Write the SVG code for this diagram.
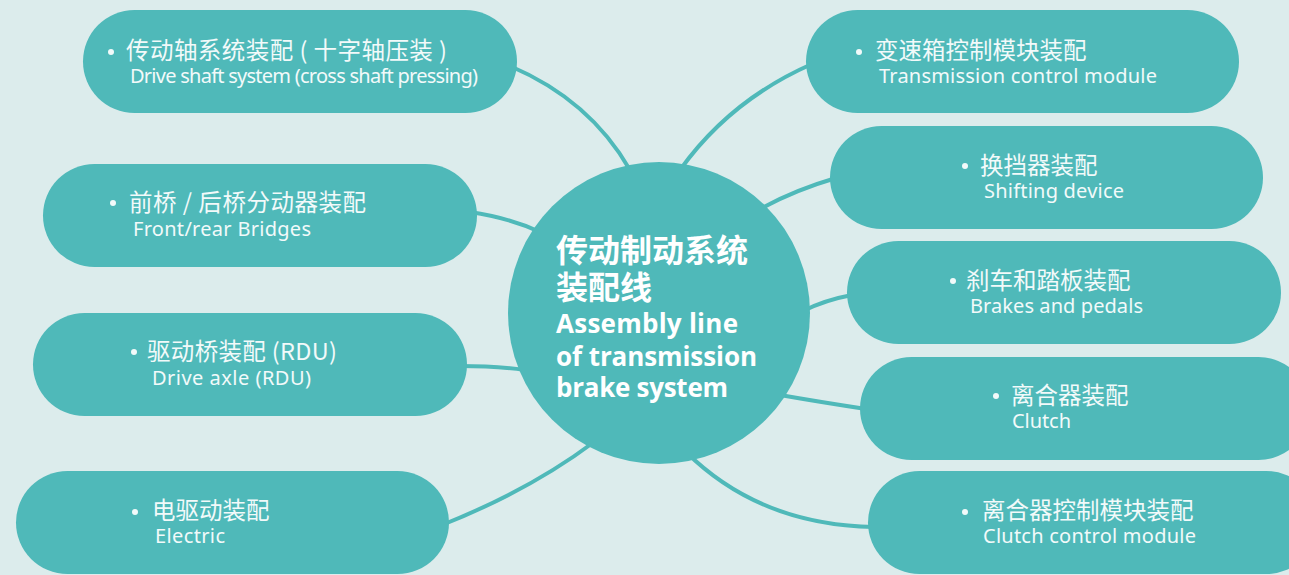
<svg xmlns="http://www.w3.org/2000/svg" width="1289" height="575" viewBox="0 0 1289 575">
<style>
.bg{fill:#dcecec}
.pill{fill:#4fb9b9}
.hub{fill:#4fb9b9}
.con{fill:none;stroke:#4fb9b9;stroke-width:4}
.zh{font-family:"Noto Sans CJK SC","Noto Sans",sans-serif;font-size:23.5px;fill:#f2fafa}
.en{font-family:"Noto Sans","Noto Sans CJK SC",sans-serif;font-size:20px;fill:#f2fafa}
.dot{fill:#f2fafa}
.hzh{font-family:"Noto Sans CJK SC",sans-serif;font-size:32px;font-weight:bold;fill:#ffffff}
.hen{font-family:"Open Sans","Noto Sans",sans-serif;font-size:26px;font-weight:bold;fill:#ffffff}
</style>
<rect class="bg" x="0" y="0" width="1289" height="575"/>
<g id="connectors">
<path class="con" d="M510,66 Q590,100 630,170"/>
<path class="con" d="M812,64 Q730,100 680,170"/>
<path class="con" d="M470,212 Q510,218 540,232"/>
<path class="con" d="M836,178 Q795,190 762,208"/>
<path class="con" d="M460,366 Q495,366 525,370"/>
<path class="con" d="M852,295 Q825,300 803,311"/>
<path class="con" d="M866,409 Q820,402 780,395"/>
<path class="con" d="M442,525 Q530,490 594,442"/>
<path class="con" d="M874,527 Q760,525 686,452"/>
</g>
<g id="hub">
<circle class="hub" cx="659" cy="313" r="151"/>
<text class="hzh" x="556" y="262">传动制动系统</text>
<text class="hzh" x="556" y="299">装配线</text>
<text class="hen" x="556" y="333" textLength="182">Assembly line</text>
<text class="hen" x="556" y="366" textLength="201">of transmission</text>
<text class="hen" x="556" y="397" textLength="172">brake system</text>
</g>
<g id="n1">
<rect class="pill" x="83" y="10" width="434" height="103" rx="51.5"/>
<circle class="dot" cx="111" cy="52" r="3"/>
<text class="zh" x="126" y="59" textLength="321">传动轴系统装配 ( 十字轴压装 )</text>
<text class="en" x="130" y="83" textLength="348">Drive shaft system (cross shaft pressing)</text>
</g>
<g id="n2">
<rect class="pill" x="43" y="164" width="434" height="103" rx="51.5"/>
<circle class="dot" cx="113" cy="203" r="3"/>
<text class="zh" x="129" y="211" textLength="237">前桥 / 后桥分动器装配</text>
<text class="en" x="133" y="236" textLength="178">Front/rear Bridges</text>
</g>
<g id="n3">
<rect class="pill" x="33" y="313" width="434" height="103" rx="51.5"/>
<circle class="dot" cx="134" cy="352" r="3"/>
<text class="zh" x="147" y="360" textLength="190">驱动桥装配 (RDU)</text>
<text class="en" x="152" y="385" textLength="159">Drive axle (RDU)</text>
</g>
<g id="n4">
<rect class="pill" x="16" y="471" width="433" height="103" rx="51.5"/>
<circle class="dot" cx="135" cy="512" r="3"/>
<text class="zh" x="152" y="519">电驱动装配</text>
<text class="en" x="155" y="543" textLength="70">Electric</text>
</g>
<g id="n5">
<rect class="pill" x="806" y="10" width="433" height="103" rx="51.5"/>
<circle class="dot" cx="859" cy="52" r="3"/>
<text class="zh" x="875" y="59">变速箱控制模块装配</text>
<text class="en" x="879" y="83" textLength="278">Transmission control module</text>
</g>
<g id="n6">
<rect class="pill" x="830" y="126" width="433" height="103" rx="51.5"/>
<circle class="dot" cx="965" cy="166" r="3"/>
<text class="zh" x="980" y="174">换挡器装配</text>
<text class="en" x="984" y="198" textLength="140">Shifting device</text>
</g>
<g id="n7">
<rect class="pill" x="847" y="241" width="434" height="103" rx="51.5"/>
<circle class="dot" cx="953" cy="281" r="3"/>
<text class="zh" x="966" y="289">刹车和踏板装配</text>
<text class="en" x="970" y="313" textLength="173">Brakes and pedals</text>
</g>
<g id="n8">
<rect class="pill" x="860" y="357" width="450" height="103" rx="51.5"/>
<circle class="dot" cx="996" cy="396" r="3"/>
<text class="zh" x="1011" y="404">离合器装配</text>
<text class="en" x="1012" y="428" textLength="59">Clutch</text>
</g>
<g id="n9">
<rect class="pill" x="868" y="471" width="450" height="103" rx="51.5"/>
<circle class="dot" cx="965" cy="512" r="3"/>
<text class="zh" x="982" y="519">离合器控制模块装配</text>
<text class="en" x="983" y="543" textLength="213">Clutch control module</text>
</g>
</svg>
